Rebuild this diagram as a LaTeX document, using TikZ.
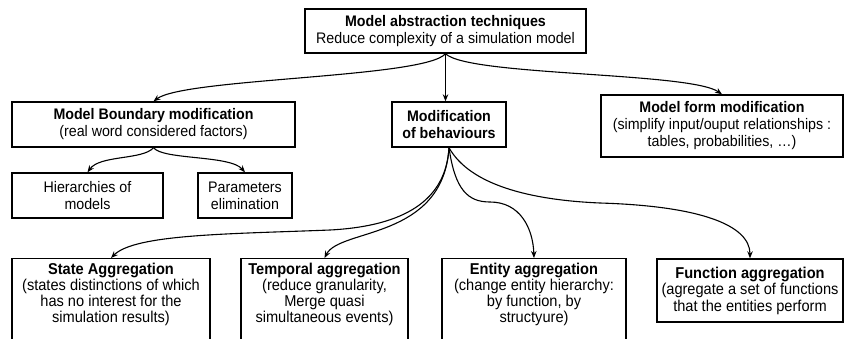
\documentclass[tikz,border=0pt]{standalone}
\usepackage{fontspec}
\setmainfont{Liberation Sans}[FakeStretch=0.93]
\usetikzlibrary{arrows.meta}
\begin{document}
\begin{tikzpicture}[x=1pt,y=-1pt,
  box/.style={draw, line width=1.4pt, rectangle, inner sep=0pt, align=center,
    font=\fontsize{15.3}{17}\selectfont},
  lowbox/.style={draw, line width=1.4pt, rectangle, inner xsep=0pt, inner ysep=4pt,
    font=\fontsize{15.7}{16}\selectfont},
  arr/.style={line width=1.1pt, -{Stealth[length=7pt,width=5.5pt]}}]
\useasboundingbox (0,0) rectangle (846,338);
\clip (0,0) rectangle (846,338);

\node[box, minimum width=281pt, minimum height=44pt] (top) at (445.5,31)
  {\textbf{Model abstraction techniques}\\Reduce complexity of a simulation model};
\node[box, minimum width=283pt, minimum height=45pt] (bound) at (153.5,124.5)
  {\textbf{Model Boundary modification}\\(real word considered factors)};
\node[box, minimum width=114pt, minimum height=45pt] (mod) at (449,124.5)
  {\textbf{Modification}\\\textbf{of behaviours}};
\node[box, minimum width=242pt, minimum height=62pt] (form) at (722,126)
  {\textbf{Model form modification}\\(simplify input/ouput relationships :\\tables, probabilities, …)};
\node[box, minimum width=151pt, minimum height=45pt] (hier) at (87.5,195.5)
  {Hierarchies of\\models};
\node[box, minimum width=94pt, minimum height=45pt] (param) at (245,195.5)
  {Parameters\\elimination};

\node[lowbox, anchor=north] (state) at (111,258)
  {\parbox[t][110pt][t]{198pt}{\centering\textbf{State Aggregation}\\(states distinctions of which\\has no interest for the\\simulation results)}};
\node[lowbox, anchor=north] (temp) at (324.5,258)
  {\parbox[t][110pt][t]{167pt}{\centering\textbf{Temporal aggregation}\\(reduce granularity,\\Merge quasi\\simultaneous events)}};
\node[lowbox, anchor=north] (ent) at (534,258)
  {\parbox[t][110pt][t]{184pt}{\centering\textbf{Entity aggregation}\\(change entity hierarchy:\\by function, by\\structyure)}};
\node[box, minimum width=186pt, minimum height=63pt, font=\fontsize{15.7}{16.5}\selectfont] (func) at (750,290.5)
  {\textbf{Function aggregation}\\(agregate a set of functions\\that the entities perform};

\draw[arr] (top.south) .. controls (425,78) and (185,78) .. (bound.north);
\draw[arr] (top.south) -- (top.south |- mod.north);
\draw[arr] (top.south) .. controls (468,76) and (690,72) .. (form.north);

\draw[arr] (bound.south) .. controls (143,160) and (100,155) .. (hier.north);
\draw[arr] (bound.south) .. controls (163,160) and (230,155) .. (param.north);

\draw[arr] (mod.south) .. controls (446,200) and (405,226) .. (330,230)
  .. controls (230,234) and (135,234) .. (state.north);
\draw[arr] (mod.south) .. controls (443,240) and (340,228) .. (temp.north);
\draw[arr] (mod.south) .. controls (455,190) and (468,202) .. (490,202)
  .. controls (520,202) and (533,228) .. (ent.north);
\draw[arr] (mod.south) .. controls (470,185) and (530,200) .. (600,203)
  .. controls (700,206) and (750,225) .. (func.north);
\end{tikzpicture}
\end{document}
